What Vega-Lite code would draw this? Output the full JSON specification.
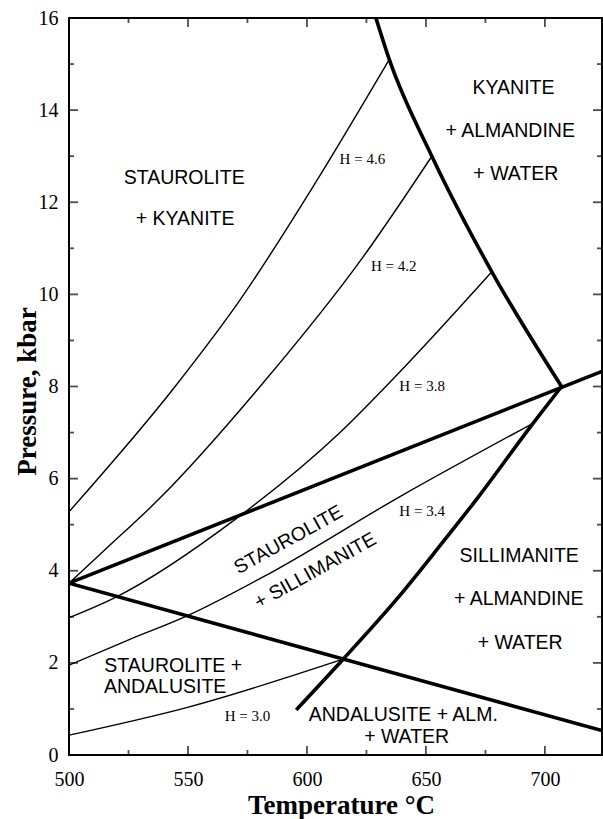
{
  "$schema": "https://vega.github.io/schema/vega-lite/v6.json",
  "width": 533,
  "height": 737,
  "autosize": "none",
  "padding": {"left": 69, "top": 18, "right": 1, "bottom": 64},
  "background": "white",
  "config": {
    "view": {"stroke": "black", "strokeWidth": 2},
    "axis": {
      "grid": false,
      "domain": false,
      "ticks": false,
      "labelColor": "black",
      "titleColor": "black",
      "labelFont": "Liberation Serif",
      "labelFontSize": 20,
      "titleFont": "Liberation Serif",
      "titleFontSize": 27,
      "titleFontWeight": "bold",
      "labelFlush": false,
      "labelOverlap": false
    }
  },
  "datasets": {
    "reactions": [
      {"id": "A", "T": 500, "P": 3.73},
      {"id": "A", "T": 724, "P": 8.33},
      {"id": "B", "T": 500, "P": 3.73},
      {"id": "B", "T": 724, "P": 0.53},
      {"id": "C", "T": 629, "P": 16.0},
      {"id": "C", "T": 634.6, "P": 15.1},
      {"id": "C", "T": 652.5, "P": 13.0},
      {"id": "C", "T": 677.7, "P": 10.49},
      {"id": "C", "T": 707, "P": 8.0},
      {"id": "D", "T": 595.5, "P": 0.98},
      {"id": "D", "T": 615.2, "P": 2.08},
      {"id": "D", "T": 638, "P": 3.4},
      {"id": "D", "T": 656, "P": 4.55},
      {"id": "D", "T": 672, "P": 5.6},
      {"id": "D", "T": 695, "P": 7.2},
      {"id": "D", "T": 707, "P": 8.0}
    ],
    "isopleths": [
      {"id": "H46", "T": 500, "P": 5.28},
      {"id": "H46", "T": 544.6, "P": 8.0},
      {"id": "H46", "T": 571.9, "P": 9.88},
      {"id": "H46", "T": 603.4, "P": 12.41},
      {"id": "H46", "T": 634.6, "P": 15.1},
      {"id": "H42", "T": 500, "P": 3.73},
      {"id": "H42", "T": 515, "P": 4.45},
      {"id": "H42", "T": 537.5, "P": 5.54},
      {"id": "H42", "T": 580.3, "P": 8.0},
      {"id": "H42", "T": 623.7, "P": 10.82},
      {"id": "H42", "T": 652.5, "P": 13.0},
      {"id": "H38", "T": 500, "P": 2.98},
      {"id": "H38", "T": 520.2, "P": 3.44},
      {"id": "H38", "T": 570, "P": 5.12},
      {"id": "H38", "T": 613.9, "P": 7.0},
      {"id": "H38", "T": 639.1, "P": 8.32},
      {"id": "H38", "T": 677.7, "P": 10.49},
      {"id": "H34", "T": 500, "P": 1.95},
      {"id": "H34", "T": 525.1, "P": 2.5},
      {"id": "H34", "T": 549.6, "P": 3.02},
      {"id": "H34", "T": 584.2, "P": 3.94},
      {"id": "H34", "T": 639.1, "P": 5.61},
      {"id": "H34", "T": 695, "P": 7.2},
      {"id": "H30", "T": 500, "P": 0.43},
      {"id": "H30", "T": 550.2, "P": 1.04},
      {"id": "H30", "T": 615.2, "P": 2.08}
    ],
    "regions": [
      {"T": 548.4, "P": 12.52, "text": "STAUROLITE"},
      {"T": 548.8, "P": 11.64, "text": "+ KYANITE"},
      {"T": 686.8, "P": 14.47, "text": "KYANITE"},
      {"T": 685.4, "P": 13.55, "text": "+ ALMANDINE"},
      {"T": 687.8, "P": 12.61, "text": "+ WATER"},
      {"T": 689.2, "P": 4.33, "text": "SILLIMANITE"},
      {"T": 689.0, "P": 3.39, "text": "+ ALMANDINE"},
      {"T": 689.6, "P": 2.44, "text": "+ WATER"},
      {"T": 543.8, "P": 1.94, "text": "STAUROLITE +"},
      {"T": 540.4, "P": 1.47, "text": "ANDALUSITE"},
      {"T": 640.5, "P": 0.87, "text": "ANDALUSITE + ALM."},
      {"T": 641.9, "P": 0.39, "text": "+ WATER"}
    ],
    "oblique": [
      {"T": 592.2, "P": 4.67, "text": "STAUROLITE"},
      {"T": 603.5, "P": 4.0, "text": "+ SILLIMANITE"}
    ],
    "hlabels": [
      {"T": 623.3, "P": 12.93, "text": "H = 4.6"},
      {"T": 636.5, "P": 10.62, "text": "H = 4.2"},
      {"T": 648.4, "P": 8.01, "text": "H = 3.8"},
      {"T": 648.4, "P": 5.30, "text": "H = 3.4"},
      {"T": 575.0, "P": 0.85, "text": "H = 3.0"}
    ],
    "xticks": [
      {"T": 500, "kind": "major"}, {"T": 525, "kind": "minor"},
      {"T": 550, "kind": "major"}, {"T": 575, "kind": "minor"},
      {"T": 600, "kind": "major"}, {"T": 625, "kind": "minor"},
      {"T": 650, "kind": "major"}, {"T": 675, "kind": "minor"},
      {"T": 700, "kind": "major"}
    ],
    "yticks": [
      {"P": 0, "kind": "major"}, {"P": 1, "kind": "minor"},
      {"P": 2, "kind": "major"}, {"P": 3, "kind": "minor"},
      {"P": 4, "kind": "major"}, {"P": 5, "kind": "minor"},
      {"P": 6, "kind": "major"}, {"P": 7, "kind": "minor"},
      {"P": 8, "kind": "major"}, {"P": 9, "kind": "minor"},
      {"P": 10, "kind": "major"}, {"P": 11, "kind": "minor"},
      {"P": 12, "kind": "major"}, {"P": 13, "kind": "minor"},
      {"P": 14, "kind": "major"}, {"P": 15, "kind": "minor"},
      {"P": 16, "kind": "major"}
    ]
  },
  "layer": [
    {
      "data": {"name": "reactions"},
      "mark": {"type": "line", "interpolate": "monotone", "strokeWidth": 3.6, "color": "black", "clip": true},
      "encoding": {
        "x": {
          "field": "T", "type": "quantitative",
          "scale": {"domain": [500, 724], "nice": false, "zero": false},
          "axis": {
            "orient": "bottom",
            "values": [500, 550, 600, 650, 700],
            "labelBaseline": "alphabetic",
            "labelPadding": 30,
            "title": "Temperature °C",
            "titleX": 272,
            "titleY": 58,
            "titleBaseline": "alphabetic"
          }
        },
        "y": {
          "field": "P", "type": "quantitative",
          "scale": {"domain": [0, 16], "nice": false, "zero": false},
          "axis": {
            "orient": "left",
            "values": [0, 2, 4, 6, 8, 10, 12, 14, 16],
            "labelBaseline": "middle",
            "labelPadding": 11,
            "title": "Pressure, kbar",
            "titleX": -34,
            "titleY": 373,
            "titleAngle": 270,
            "titleBaseline": "alphabetic"
          }
        },
        "detail": {"field": "id"},
        "order": {"field": "T"}
      }
    },
    {
      "data": {"name": "isopleths"},
      "mark": {"type": "line", "interpolate": "monotone", "strokeWidth": 1.4, "color": "black", "clip": true},
      "encoding": {
        "x": {"field": "T", "type": "quantitative"},
        "y": {"field": "P", "type": "quantitative"},
        "detail": {"field": "id"},
        "order": {"field": "T"}
      }
    },
    {
      "data": {"name": "xticks"},
      "mark": {"type": "tick", "orient": "vertical", "thickness": 1.8, "color": "black", "clip": true},
      "encoding": {
        "x": {"field": "T", "type": "quantitative"},
        "y": {"datum": 0, "type": "quantitative"},
        "size": {"field": "kind", "type": "nominal", "scale": {"domain": ["major", "minor"], "range": [18, 10]}, "legend": null}
      }
    },
    {
      "data": {"name": "xticks"},
      "mark": {"type": "tick", "orient": "vertical", "thickness": 1.8, "color": "black", "clip": true},
      "encoding": {
        "x": {"field": "T", "type": "quantitative"},
        "y": {"datum": 16, "type": "quantitative"},
        "size": {"field": "kind", "type": "nominal", "scale": {"domain": ["major", "minor"], "range": [18, 10]}, "legend": null}
      }
    },
    {
      "data": {"name": "yticks"},
      "mark": {"type": "tick", "orient": "horizontal", "thickness": 1.8, "color": "black", "clip": true},
      "encoding": {
        "x": {"datum": 500, "type": "quantitative"},
        "y": {"field": "P", "type": "quantitative"},
        "size": {"field": "kind", "type": "nominal", "scale": {"domain": ["major", "minor"], "range": [18, 10]}, "legend": null}
      }
    },
    {
      "data": {"name": "yticks"},
      "mark": {"type": "tick", "orient": "horizontal", "thickness": 1.8, "color": "black", "clip": true},
      "encoding": {
        "x": {"datum": 724, "type": "quantitative"},
        "y": {"field": "P", "type": "quantitative"},
        "size": {"field": "kind", "type": "nominal", "scale": {"domain": ["major", "minor"], "range": [18, 10]}, "legend": null}
      }
    },
    {
      "data": {"name": "regions"},
      "mark": {"type": "text", "font": "Liberation Sans", "fontSize": 19.5, "color": "black", "align": "center", "baseline": "middle"},
      "encoding": {
        "x": {"field": "T", "type": "quantitative"},
        "y": {"field": "P", "type": "quantitative"},
        "text": {"field": "text"}
      }
    },
    {
      "data": {"name": "hlabels"},
      "mark": {"type": "text", "font": "Liberation Serif", "fontSize": 15, "color": "black", "align": "center", "baseline": "middle"},
      "encoding": {
        "x": {"field": "T", "type": "quantitative"},
        "y": {"field": "P", "type": "quantitative"},
        "text": {"field": "text"}
      }
    },
    {
      "data": {"name": "oblique"},
      "mark": {"type": "text", "font": "Liberation Sans", "fontSize": 19.5, "color": "black", "align": "center", "baseline": "middle", "angle": 331},
      "encoding": {
        "x": {"field": "T", "type": "quantitative"},
        "y": {"field": "P", "type": "quantitative"},
        "text": {"field": "text"}
      }
    }
  ]
}
